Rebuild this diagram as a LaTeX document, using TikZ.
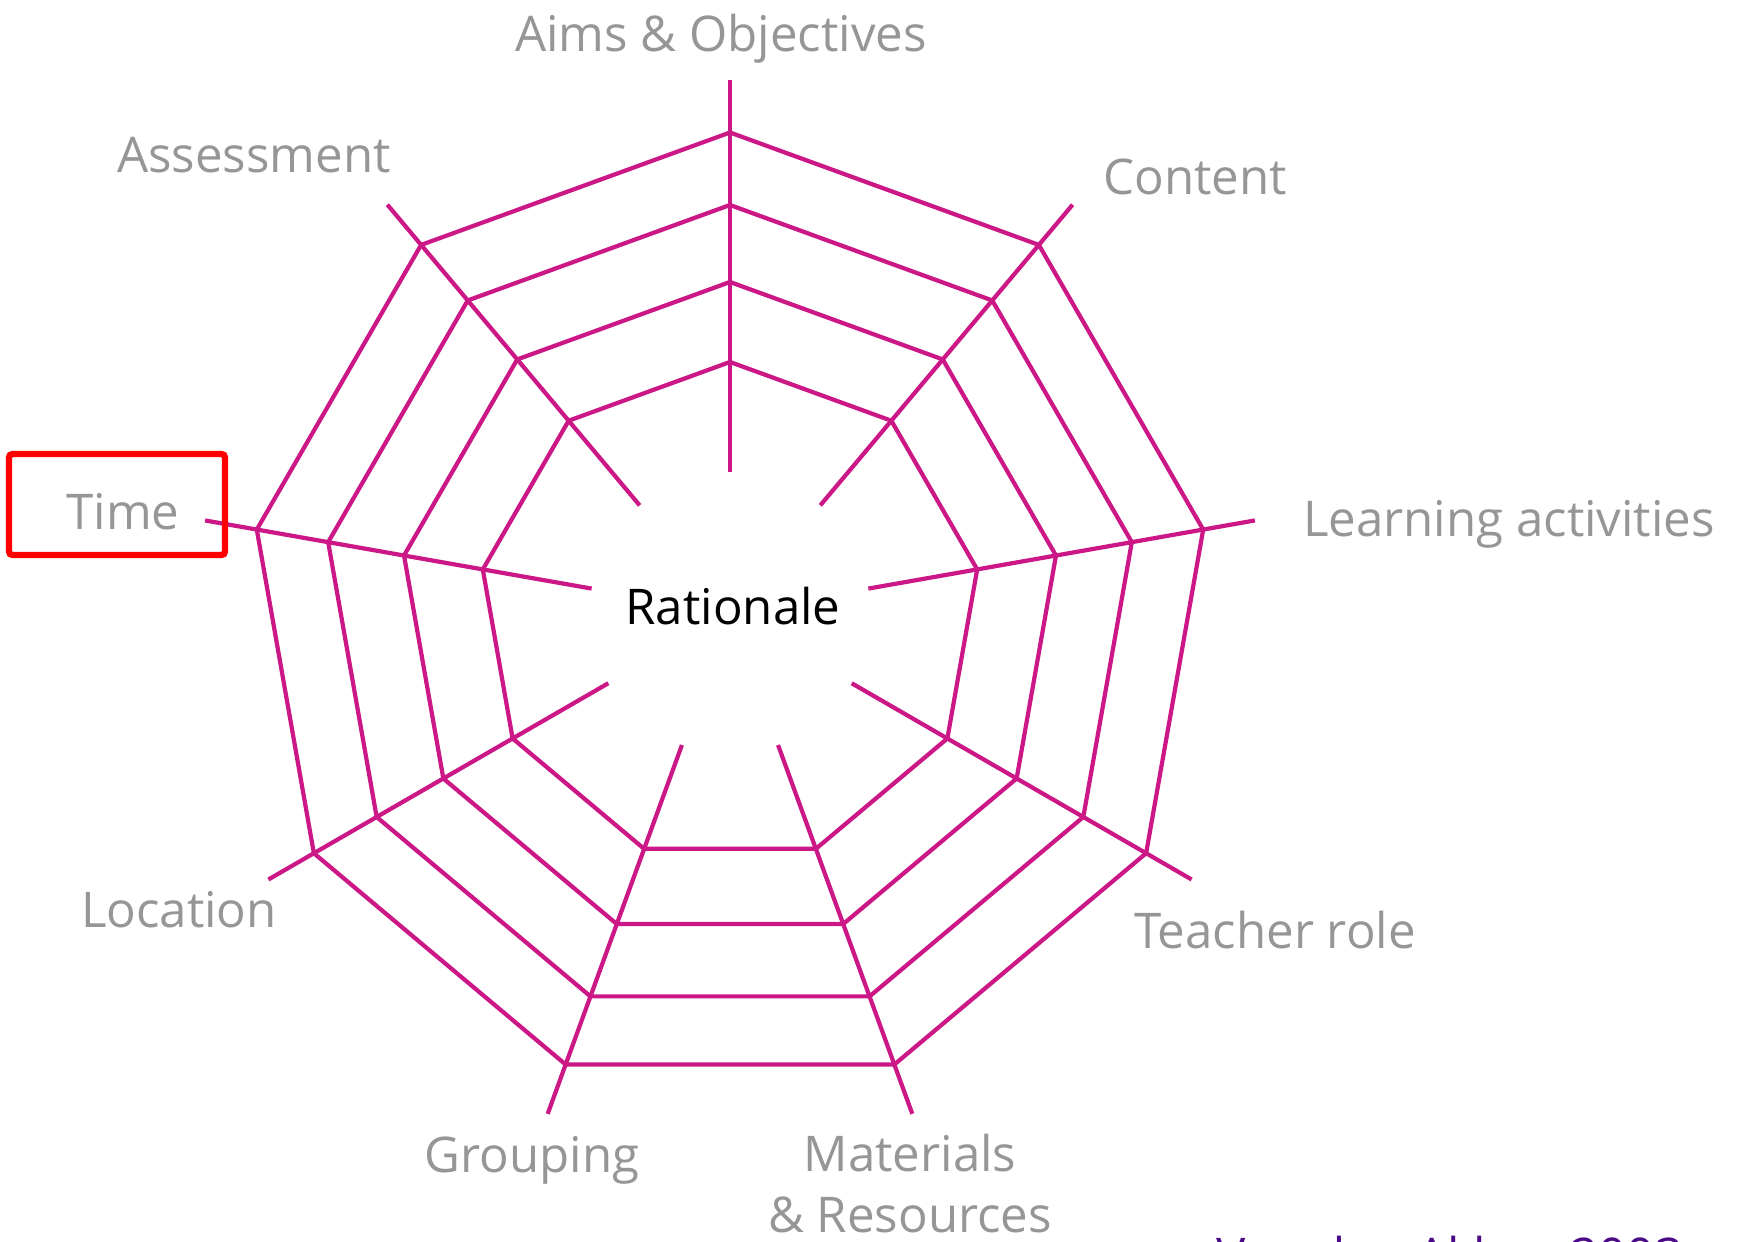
\documentclass[tikz,border=0pt]{standalone}
\usepackage{fontspec}
\setmainfont{Open Sans}
\usepackage{tikz}
\usetikzlibrary{positioning,calc}
\definecolor{web}{RGB}{204,24,134}
\definecolor{lblgray}{RGB}{150,150,150}
\definecolor{srcpurple}{RGB}{75,10,135}

\begin{document}
\begin{tikzpicture}[
    spoke/.style={draw=web, line width=1.2pt},
    ring/.style={draw=web, line width=1.2pt, line join=miter},
    lbl/.style={text=lblgray, inner sep=0pt, anchor=base, font=\fontsize{14}{17.6}\selectfont},
    hilite/.style={draw=red, line width=1.8pt, rounded corners=1pt}]
    \useasboundingbox (0,0) rectangle (17.48,-12.42);
    \coordinate (c) at (7.30,-6.13);

    % spokes
    \foreach \k in {0,...,8} {
      \coordinate (in\k) at ($(c)+(90-40*\k:1.405)$);
      \coordinate (out\k) at ($(c)+(90-40*\k:5.33)$);
      \draw[spoke] (in\k) -- (out\k);
    }
    % rings
    \foreach \r in {2.51,3.31,4.08,4.805} {
      \draw[ring] ($(c)+(90:\r)$) \foreach \k in {1,...,8} { -- ($(c)+(90-40*\k:\r)$) } -- cycle;
    }

    \node [lbl, text=black] (rationale) at (7.33,-6.25) {Rationale};
    \node [lbl] (aims) at (7.21,-0.52) {Aims \& Objectives};
    \node [lbl] (content) at (11.95,-1.95) {Content};
    \node [lbl] (learning) at (15.09,-5.37) {Learning activities};
    \node [lbl] (teacher) at (12.75,-9.49) {Teacher role};
    \node [lbl, align=center] (materials) at (9.10,-12.33) {Materials\\\& Resources};
    \node [lbl] (grouping) at (5.32,-11.73) {Grouping};
    \node [lbl] (location) at (1.79,-9.28) {Location};
    \node [lbl] (time) at (1.23,-5.30) {Time};
    \node [lbl] (assessment) at (2.54,-1.73) {Assessment};

    \draw[hilite] (0.09,-4.54) rectangle (2.25,-5.55);
    \node [lbl, text=srcpurple] (source) at (14.50,-12.74) {Van den Akker, 2003};
\end{tikzpicture}
\end{document}
